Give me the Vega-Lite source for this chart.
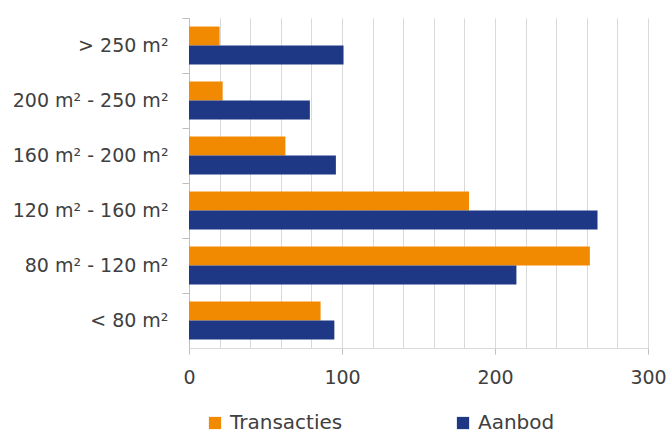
{
  "$schema": "https://vega.github.io/schema/vega-lite/v6.json",
  "width": 459,
  "height": 330,
  "autosize": {"type": "none"},
  "padding": {"left": 189, "top": 18, "right": 18, "bottom": 87},
  "background": "white",
  "config": {
    "view": {"stroke": null},
    "font": "DejaVu Sans",
    "axis": {"labelFont": "DejaVu Sans", "labelColor": "#404040", "labelFontSize": 19}
  },
  "data": {
    "values": [
      {"cat": "> 250 m²", "serie": "Transacties", "value": 20},
      {"cat": "> 250 m²", "serie": "Aanbod", "value": 101},
      {"cat": "200 m² - 250 m²", "serie": "Transacties", "value": 22},
      {"cat": "200 m² - 250 m²", "serie": "Aanbod", "value": 79},
      {"cat": "160 m² - 200 m²", "serie": "Transacties", "value": 63},
      {"cat": "160 m² - 200 m²", "serie": "Aanbod", "value": 96},
      {"cat": "120 m² - 160 m²", "serie": "Transacties", "value": 183},
      {"cat": "120 m² - 160 m²", "serie": "Aanbod", "value": 267},
      {"cat": "80 m² - 120 m²", "serie": "Transacties", "value": 262},
      {"cat": "80 m² - 120 m²", "serie": "Aanbod", "value": 214},
      {"cat": "< 80 m²", "serie": "Transacties", "value": 86},
      {"cat": "< 80 m²", "serie": "Aanbod", "value": 95}
    ]
  },
  "mark": {"type": "bar"},
  "encoding": {
    "y": {
      "field": "cat", "type": "nominal", "sort": null, "title": null,
      "scale": {"paddingInner": 0, "paddingOuter": 0},
      "axis": {
        "bandPosition": 0, "domainColor": "#bfbfbf", "tickColor": "#bfbfbf",
        "tickSize": 7, "labelPadding": 14, "grid": false
      }
    },
    "yOffset": {
      "field": "serie", "type": "nominal", "sort": ["Transacties", "Aanbod"],
      "scale": {"paddingInner": 0, "paddingOuter": 0.45}
    },
    "x": {
      "field": "value", "type": "quantitative", "title": null,
      "scale": {"domain": [0, 300], "nice": false},
      "axis": {
        "values": [0, 20, 40, 60, 80, 100, 120, 140, 160, 180, 200, 220, 240, 260, 280, 300],
        "labelExpr": "datum.value % 100 === 0 ? datum.label : ''",
        "grid": true, "gridColor": "#d9d9d9",
        "domainColor": "#d9d9d9", "tickColor": "#bfbfbf", "tickSize": 6,
        "tickOpacity": {"condition": {"test": "datum.value % 100 === 0", "value": 1}, "value": 0},
        "labelPadding": 14, "labelFlush": false
      }
    },
    "color": {
      "field": "serie", "type": "nominal", "sort": ["Transacties", "Aanbod"],
      "scale": {"domain": ["Transacties", "Aanbod"], "range": ["#F18A00", "#1F3885"]},
      "legend": {
        "title": null, "orient": "none", "direction": "horizontal", "columns": 2,
        "legendX": 16, "legendY": 395, "symbolType": "square", "symbolSize": 150,
        "symbolStrokeWidth": 0, "labelFontSize": 20, "labelColor": "#404040",
        "labelFont": "DejaVu Sans", "columnPadding": 110, "labelOffset": 5
      }
    }
  }
}
